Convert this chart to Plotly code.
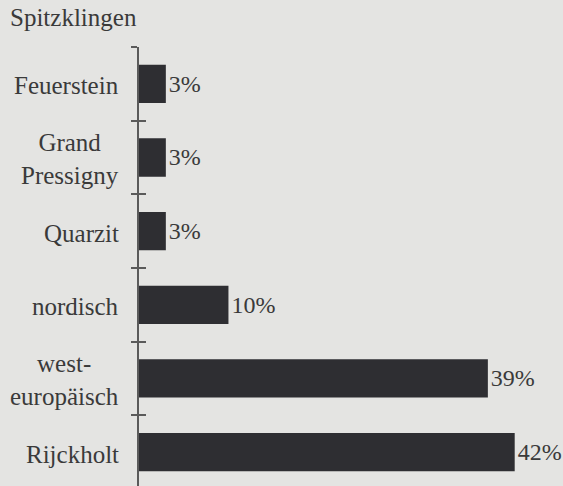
import plotly.graph_objects as go

categories = ["Feuerstein", "Grand<br>Pressigny", "Quarzit", "nordisch", "west-<br>europäisch", "Rijckholt"]
values = [3, 3, 3, 10, 39, 42]
value_labels = ["3%", "3%", "3%", "10%", "39%", "42%"]
title_text = "Spitzklingen"

FONT = "Liberation Serif"
TXT = "#3a3a3a"
BG = "#e4e4e2"
AX = "#5a5a5a"

fig = go.Figure()
fig.add_trace(go.Bar(
    x=values, y=categories, orientation="h",
    marker=dict(color="#2e2e32", line=dict(width=0)),
    text=value_labels, textposition="outside", cliponaxis=False,
    textfont=dict(family=FONT, size=24, color=TXT),
    hoverinfo="skip",
))
# invisible trace to drive the second (inside-tick) axis
fig.add_trace(go.Scatter(
    x=[0] * len(categories), y=categories, yaxis="y2", mode="markers",
    marker=dict(opacity=0), showlegend=False, hoverinfo="skip",
))

yrange = [5.46, -0.5]
common_y = dict(type="category", categoryorder="array", categoryarray=categories,
                range=yrange, tickson="boundaries", showticklabels=False,
                showgrid=False, zeroline=False, tickcolor=AX, tickwidth=1.5)

for cat in categories:
    fig.add_annotation(x=0, y=cat, xref="x", yref="y", text=cat, showarrow=False,
                       xanchor="right", align="center", xshift=-18, yshift=-2,
                       font=dict(family=FONT, size=25, color=TXT))

fig.update_layout(
    width=563, height=486,
    margin=dict(l=139, r=0, t=47, b=0),
    paper_bgcolor=BG, plot_bgcolor=BG,
    showlegend=False, bargap=0.48,
    xaxis=dict(range=[0, 47.4], visible=False),
    yaxis=dict(**common_y, ticks="outside", ticklen=6, showline=True,
               linecolor=AX, linewidth=1.5),
    yaxis2=dict(**common_y, overlaying="y", side="left", ticks="inside", ticklen=7,
                showline=False),
    title=dict(text=title_text, x=10 / 563, xanchor="left", y=1 - 8 / 486, yanchor="top",
               font=dict(family=FONT, size=25, color=TXT)),
)

fig.write_html("out.html", config={"displayModeBar": False},
               post_script="document.body.style.margin='0';document.body.style.overflow='hidden';")
